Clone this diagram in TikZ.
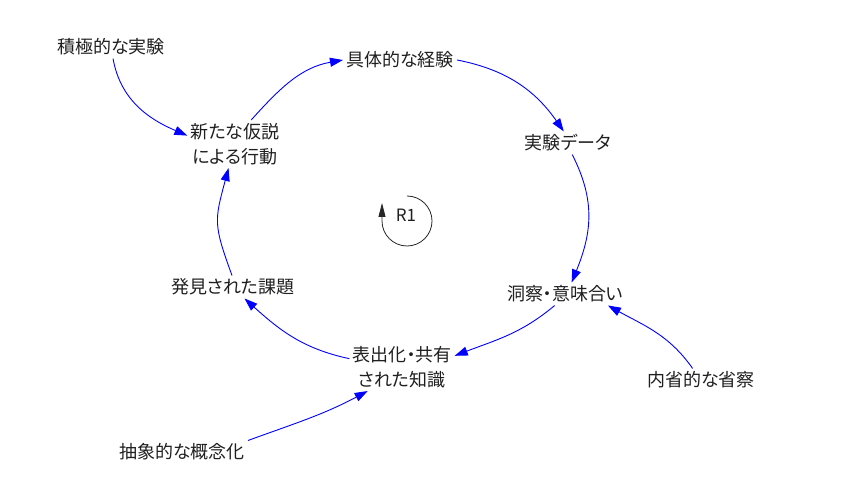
\documentclass[tikz,border=0pt]{standalone}
\usepackage{fontspec}
\setmainfont{Noto Sans CJK JP}[RawFeature=+palt]
\usetikzlibrary{arrows.meta}
\begin{document}
\begin{tikzpicture}[x=1pt,y=1pt,
  lbl/.style={font=\fontsize{18}{25}\selectfont, text=black!88, align=center, inner sep=3pt},
  link/.style={draw=blue, line width=0.9pt, -{Triangle[length=13pt,width=9pt]}},
  loopline/.style={draw=black!85, line width=0.8pt, -{Triangle[length=14pt,width=7pt]}},
]
\useasboundingbox (0,0) rectangle (850,501);
% nodes
\node[lbl] (A) at (111,454) {積極的な実験};
\node[lbl] (B) at (400,441) {具体的な経験};
\node[lbl] (C) at (235,357) {新たな仮説\\による行動};
\node[lbl] (D) at (568,358) {実験データ};
\node[lbl] (E) at (565,207) {洞察・意味合い};
\node[lbl] (F) at (402,134) {表出化・共有\\された知識};
\node[lbl] (G) at (233,214) {発見された課題};
\node[lbl] (H) at (701,121) {内省的な省察};
\node[lbl] (I) at (182,49) {抽象的な概念化};
% loop marker
\coordinate (R1c) at (407,280);
\node[lbl, font=\fontsize{17}{20}\selectfont] (R1) at (406,286) {R1};
\draw[loopline] ([shift={(90:25)}]R1c) arc[start angle=90, end angle=-180, radius=25] -- ++(0,18);
% connectors
\draw[link] (A.280) to[out=-80, in=157] (C.170);
\draw[link] (C.56) to[out=48, in=190] (B.west);
\draw[link] (B.east) to[out=-11, in=125] (D.110);
\draw[link] (D.-70) to[out=-63, in=68, looseness=1.05] (E.60);
\draw[link] (E.228) to[out=220, in=21] (F.12);
\draw[link] (F.171) to[out=168, in=-42] (G.-45);
\draw[link] (G.95) to[out=110, in=-105, looseness=1.3] (C.255);
\draw[link] (H.126) to[out=125, in=-29] (E.-15);
\draw[link] (I.north east) to[out=20, in=208] (F.215);
\end{tikzpicture}
\end{document}
